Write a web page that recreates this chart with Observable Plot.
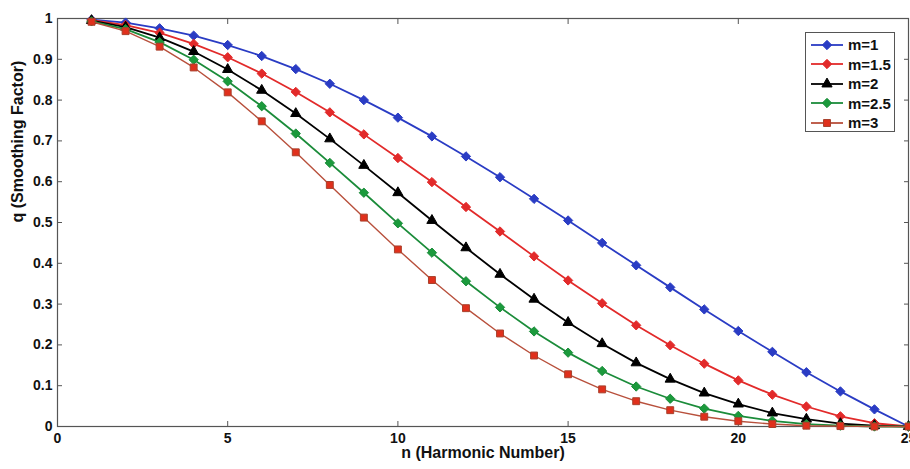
<!DOCTYPE html>
<html>
<head>
<meta charset="utf-8">
<script src="https://cdn.jsdelivr.net/npm/d3@7"></script>
<script src="https://cdn.jsdelivr.net/npm/@observablehq/plot@0.6"></script>
<style>
  html, body { margin: 0; padding: 0; background: #fff; }
  #chart { position: relative; width: 910px; height: 469px; }
  #legend {
    position: absolute; left: 805px; top: 32px; width: 90px; height: 100px;
    border: 1px solid #555; background: #fff; box-sizing: border-box;
    font-family: "Liberation Sans", Arial, sans-serif; font-weight: bold; font-size: 15px; color: #111;
    padding-top: 2px;
  }
  .row { display: flex; align-items: center; height: 19.5px; }
  .row svg { display: block; margin-left: 4px; margin-right: 4px; }
</style>
</head>
<body>
<div id="chart"><div id="legend"></div></div>
<script>
// Harmonic numbers
const harmonics = [1,2,3,4,5,6,7,8,9,10,11,12,13,14,15,16,17,18,19,20,21,22,23,24,25];

// Smoothing factor q for each exponent m
const qM1   = [0.997,0.990,0.976,0.958,0.935,0.908,0.876,0.840,0.800,0.757,0.711,0.662,0.611,0.558,0.505,0.450,0.395,0.341,0.287,0.234,0.183,0.133,0.086,0.042,0];
const qM15  = [0.996,0.984,0.965,0.938,0.905,0.865,0.820,0.770,0.716,0.658,0.599,0.538,0.478,0.417,0.358,0.302,0.248,0.199,0.154,0.113,0.078,0.049,0.025,0.008,0];
const qM2   = [0.995,0.979,0.953,0.919,0.875,0.824,0.767,0.705,0.640,0.573,0.505,0.438,0.373,0.312,0.255,0.203,0.156,0.116,0.082,0.055,0.033,0.018,0.007,0.002,0];
const qM25  = [0.993,0.974,0.942,0.899,0.846,0.785,0.718,0.646,0.573,0.498,0.426,0.356,0.292,0.233,0.181,0.136,0.098,0.068,0.044,0.026,0.014,0.006,0.002,0.000,0];
const qM3   = [0.992,0.969,0.931,0.880,0.819,0.748,0.672,0.592,0.512,0.434,0.359,0.290,0.228,0.174,0.128,0.091,0.062,0.040,0.024,0.013,0.006,0.002,0.001,0.000,0];

const seriesNames = ["m=1", "m=1.5", "m=2", "m=2.5", "m=3"];
const seriesValues = [qM1, qM15, qM2, qM25, qM3];

// Tick values
const xTicks = [0, 5, 10, 15, 20, 25];
const yTicks = [0, 0.1, 0.2, 0.3, 0.4, 0.5, 0.6, 0.7, 0.8, 0.9, 1];

// Styling per series: line colour, marker fill, marker edge, symbol, radius
const styles = [
  {line: "#2a3cc4", fill: "#2a3cc4", edge: "#2a3cc4", symbol: "diamond2", r: 4.2},
  {line: "#e22a2a", fill: "#e22a2a", edge: "#e22a2a", symbol: "diamond2", r: 4.2},
  {line: "#000000", fill: "#000000", edge: "#000000", symbol: "triangle", r: 3.8},
  {line: "#1b8c3a", fill: "#1b9a3c", edge: "#1b8c3a", symbol: "diamond2", r: 4.2},
  {line: "#b8503c", fill: "#e0301c", edge: "#a8402c", symbol: "square", r: 3.9}
];

const table = seriesNames.flatMap((name, i) =>
  harmonics.map((n, j) => ({series: name, n, q: seriesValues[i][j]}))
);

const seriesMarks = seriesNames.flatMap((name, i) => {
  const rows = table.filter(d => d.series === name);
  const s = styles[i];
  return [
    Plot.line(rows, {x: "n", y: "q", stroke: s.line, strokeWidth: i === 4 ? 1.4 : 1.8}),
    Plot.dot(rows, {x: "n", y: "q", symbol: () => s.symbol, r: s.r, fill: s.fill, stroke: s.edge, strokeWidth: 1})
  ];
});

const axisColor = "#555";
const chart = Plot.plot({
  width: 910,
  height: 469,
  marginTop: 18,
  marginRight: 2,
  marginBottom: 43,
  marginLeft: 57,
  style: {fontFamily: "'Liberation Sans', Arial, sans-serif", fontSize: "14px", fontWeight: "bold", color: "#111", background: "#fff", overflow: "hidden"},
  x: {domain: [0, 25]},
  y: {domain: [0, 1]},
  symbol: {type: "identity"},
  marks: [
    Plot.frame({stroke: axisColor, strokeWidth: 1.2}),
    Plot.axisX({ticks: xTicks, tickFormat: d => String(d), tickSize: -5, tickPadding: 12, stroke: axisColor, label: null, fill: "#111"}),
    Plot.axisX({anchor: "top", ticks: xTicks, tickFormat: () => "", tickSize: -5, stroke: axisColor, label: null}),
    Plot.axisY({ticks: yTicks, tickFormat: d => String(d), tickSize: -5, tickPadding: 10, stroke: axisColor, label: null, fill: "#111"}),
    Plot.axisY({anchor: "right", ticks: yTicks, tickFormat: () => "", tickSize: -5, stroke: axisColor, label: null}),
    ...seriesMarks,
    Plot.text(["n (Harmonic Number)"], {frameAnchor: "bottom", dy: 31, text: d => d, fontSize: 16, fontWeight: "bold", fill: "#111"}),
    Plot.text(["q (Smoothing Factor)"], {frameAnchor: "left", dx: -40, rotate: -90, text: d => d, fontSize: 16, fontWeight: "bold", fill: "#111"})
  ]
});
document.getElementById("chart").prepend(chart);

// Legend entries: short line with the series marker in the middle
const legend = d3.select("#legend");
seriesNames.forEach((name, i) => {
  const s = styles[i];
  const row = legend.append("div").attr("class", "row");
  const svg = row.append("svg").attr("width", 34).attr("height", 14);
  svg.append("line").attr("x1", 1).attr("x2", 33).attr("y1", 7).attr("y2", 7)
    .attr("stroke", s.line).attr("stroke-width", 1.8);
  const symType = s.symbol === "triangle" ? d3.symbolTriangle : s.symbol === "square" ? d3.symbolSquare : d3.symbolDiamond2;
  svg.append("path").attr("transform", "translate(17,7)")
    .attr("d", d3.symbol(symType, Math.PI * s.r * s.r)())
    .attr("fill", s.fill).attr("stroke", s.edge);
  row.append("span").text(name);
});
</script>
</body>
</html>
